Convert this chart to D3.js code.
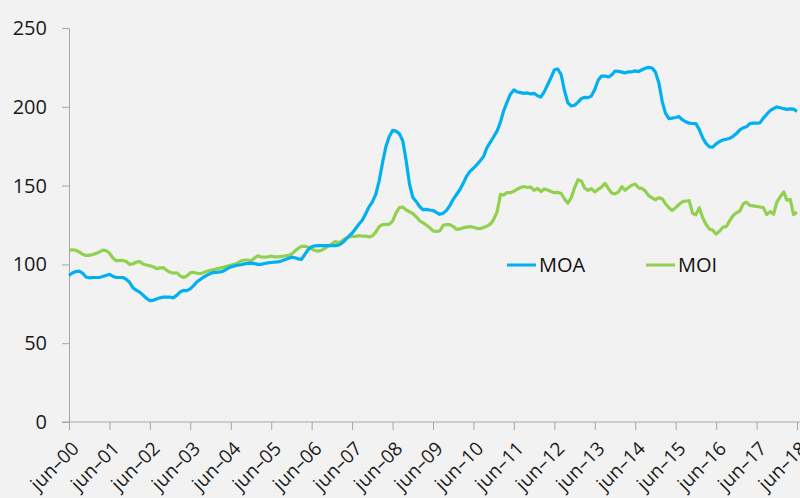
<!DOCTYPE html>
<html>
<head>
<meta charset="utf-8">
<script src="https://cdn.jsdelivr.net/npm/d3@7"></script>
<style>
  body { margin: 0; background: #f2f2f2; }
  svg { display: block; }
  svg text { font-family: "Open Sans", sans-serif; }
</style>
</head>
<body>
<svg id="chart" width="800" height="498"></svg>
<script>
// monthly series, jun-00 .. jun-18
const startYear = 2000;
const startMonth = 5; // june

const moa = [
  93, 94.5, 95.5, 95.7, 94.5, 92, 91.5, 91.7, 91.7, 91.7, 92.3, 93,
  93.7, 92.5, 91.7, 91.7, 91.7, 90.5, 88.5, 85, 83.5, 82.4, 80.5, 78.5,
  77, 77.2, 78, 78.8, 79.2, 79.2, 79.2, 78.8, 80.5, 82.5, 83.5, 83.3,
  84.5, 86.5, 89, 90.5, 92, 93.2, 94.2, 95, 95, 95.2, 96, 97.3,
  98.4, 99, 99.5, 99.8, 100.3, 100.6, 100.8, 100.5, 100, 100, 100.6, 101,
  101.2, 101.4, 101.6, 102.2, 103, 103.8, 104.6, 104.2, 103.5, 103.2, 106.3, 109.5,
  111.2, 111.8, 111.9, 111.9, 111.9, 111.9, 111.9, 111.9, 112.3, 113.5, 115.5, 117.7,
  119.8, 122.5, 125.5, 128, 132, 136.5, 139.5, 144.5, 153, 164, 174.5, 181,
  185, 184.6, 183, 178.5, 166, 151, 142.5, 139.8, 136.6, 134.8, 134.9, 134.5,
  134.2, 133, 131.8, 132.5, 134.3, 137.5, 141.3, 144.5, 147.7, 151.5, 156, 159,
  161, 163.2, 165.8, 168.5, 174, 177.6, 181, 184.7, 190.5, 197.5, 203, 208,
  210.7, 209.4, 209, 208.5, 208.8, 208.2, 208.5, 207, 206.2, 209.5, 214, 218.4,
  223.5, 224, 220.5, 210, 202.5, 200.5, 201, 203, 205.3, 206, 205.8, 206.8,
  211, 216.8, 219.5, 219.5, 218.9, 220.2, 222.7, 222.5, 222, 221.5, 222.2, 222.2,
  222.8, 222.3, 223.5, 224.5, 225, 224.6, 222, 215, 203, 196, 192.5, 192.8,
  193.2, 193.8, 191.8, 190.5, 189.6, 189.4, 189.3, 185.5, 180.2, 176.8, 174.6, 174.4,
  176.5, 178, 178.9, 179.4, 180, 181.3, 183, 185.3, 186.7, 187.3, 189.3, 189.6,
  189.7, 189.8, 192.8, 195.3, 197.5, 198.8, 199.9, 199.4, 198.8, 198.4, 198.7, 198.5,
  197.1
];

const moi = [
  109, 109.3, 109, 107.9, 106.5, 105.7, 105.7, 106.3, 107, 107.8, 109, 108.8,
  107.2, 104.2, 102.3, 102.6, 102.5, 101.8, 99.9, 100.4, 101.6, 101.7, 100.3, 99.6,
  99.1, 98.5, 97.3, 97.8, 98, 96.2, 95, 94.5, 94.7, 92.7, 91.7, 92.6,
  94.6, 95, 94.4, 94.1, 94.8, 95.6, 96.3, 96.8, 97.3, 97.8, 98.3, 99,
  99.5, 100, 100.8, 102.2, 102.8, 102.8, 102.2, 104, 105.5, 104.7, 104.6, 104.8,
  105.3, 104.8, 104.8, 105.1, 105.3, 105.7, 106.5, 108.5, 110.3, 111.4, 111.5, 111,
  109.8, 108.8, 108.4, 109, 110.3, 111.7, 113, 114.5, 113.8, 114.8, 116.5, 117.4,
  117.8, 117.8, 118.2, 118, 118, 117.5, 118, 120.5, 124, 125.2, 125.4, 125.4,
  127.5, 132.5, 136, 136.4, 134.6, 133.4, 132.3, 130.2, 127.6, 126.5, 125, 123.4,
  121.2, 121, 121.2, 124.8, 125.3, 125.2, 124, 122.2, 122.5, 123.2, 123.7, 124,
  123.6, 122.9, 122.7, 123.4, 124.3, 125.5, 128.5, 133.5, 144.5, 144, 145.6, 145.5,
  146.4, 147.7, 148.8, 149.4, 148.8, 149.1, 147, 148.3, 146.1, 147.8, 147.2, 146.3,
  145.5, 145.7, 145, 141.5, 138.8, 142.4, 148.8, 153.8, 152.8, 148.4, 147, 148.1,
  146, 147.6, 149, 151.4, 148.2, 145.3, 144.7, 146, 149.3, 147, 148.8, 150.2,
  151, 148.6, 148.2, 146.5, 143.6, 142.2, 141, 142.3, 141.5, 138.5, 136, 134.2,
  136, 138, 139.8, 140.1, 140.5, 132.5, 131.5, 136, 129.5, 125.5, 122.4, 121.6,
  119.2, 121, 123.6, 124.1, 127.8, 131, 132.7, 133.9, 138.5, 139.5, 137.4, 137.1,
  136.8, 136.4, 136, 131.6, 133.5, 131.8, 139.5, 143, 146, 140.8, 141.2, 131.6,
  133.2
];

const seriesNames = ['MOA', 'MOI'];
const yTicks = [0, 50, 100, 150, 200, 250];
const tickYears = d3.range(2000, 2019);
const xTickLabels = tickYears.map(y => 'jun–' + String(y % 100).padStart(2, '0'));

const colors = { MOA: '#00b0f0', MOI: '#92d050' };
const fontFamily = '"Open Sans", sans-serif';

const margin = { top: 28, right: 3, bottom: 76, left: 69 };
const svg = d3.select('#chart');
const width = +svg.attr('width') - margin.left - margin.right;
const height = +svg.attr('height') - margin.top - margin.bottom;

const dates = moa.map((d, i) => new Date(startYear, startMonth + i, 1));

const x = d3.scaleTime()
  .domain([dates[0], dates[dates.length - 1]])
  .range([0, width]);

const y = d3.scaleLinear()
  .domain([0, 250])
  .range([height, 0]);

const g = svg.append('g')
  .attr('transform', `translate(${margin.left},${margin.top})`);

// y axis
const yAxis = g.append('g')
  .call(d3.axisLeft(y).tickValues(yTicks).tickSize(7).tickSizeOuter(0).tickPadding(15))
  .attr('font-family', fontFamily);
yAxis.select('.domain').attr('stroke', '#a6a6a6');
yAxis.selectAll('.tick line').attr('stroke', '#a6a6a6');
yAxis.selectAll('.tick text')
  .attr('fill', '#1a1a1a')
  .style('font-size', '20px');

// x axis
const tickDates = tickYears.map(yr => new Date(yr, startMonth, 1));
const xAxis = g.append('g')
  .attr('transform', `translate(0,${height})`)
  .call(d3.axisBottom(x).tickValues(tickDates).tickSize(8).tickSizeOuter(0)
    .tickFormat((d, i) => xTickLabels[i]))
  .attr('font-family', fontFamily);
xAxis.select('.domain').remove();
xAxis.append('line')
  .attr('x1', -7).attr('x2', width + margin.right)
  .attr('stroke', '#a6a6a6');
xAxis.selectAll('.tick line').attr('stroke', '#a6a6a6');
xAxis.selectAll('.tick text')
  .attr('x', 0).attr('y', 0).attr('dy', '0.35em')
  .attr('text-anchor', 'end')
  .attr('transform', 'translate(6,23) rotate(-45)')
  .attr('fill', '#1a1a1a')
  .style('font-size', '19px');

// lines
const line = d3.line()
  .x((d, i) => x(dates[i]))
  .y(d => y(d));

[['MOI', moi], ['MOA', moa]].forEach(([name, values]) => {
  g.append('path')
    .datum(values)
    .attr('fill', 'none')
    .attr('stroke', colors[name])
    .attr('stroke-width', 3.2)
    .attr('stroke-linejoin', 'round')
    .attr('d', line);
});

// legend
const legend = svg.append('g').attr('transform', 'translate(507,265)');
seriesNames.forEach((name, i) => {
  const item = legend.append('g').attr('transform', `translate(${i * 139},0)`);
  item.append('line')
    .attr('x1', 0).attr('x2', 29)
    .attr('stroke', colors[name])
    .attr('stroke-width', 3);
  item.append('text')
    .attr('x', 32).attr('dy', '0.35em')
    .attr('fill', '#111')
    .style('font-size', '20px')
    .text(name);
});
</script>
</body>
</html>
